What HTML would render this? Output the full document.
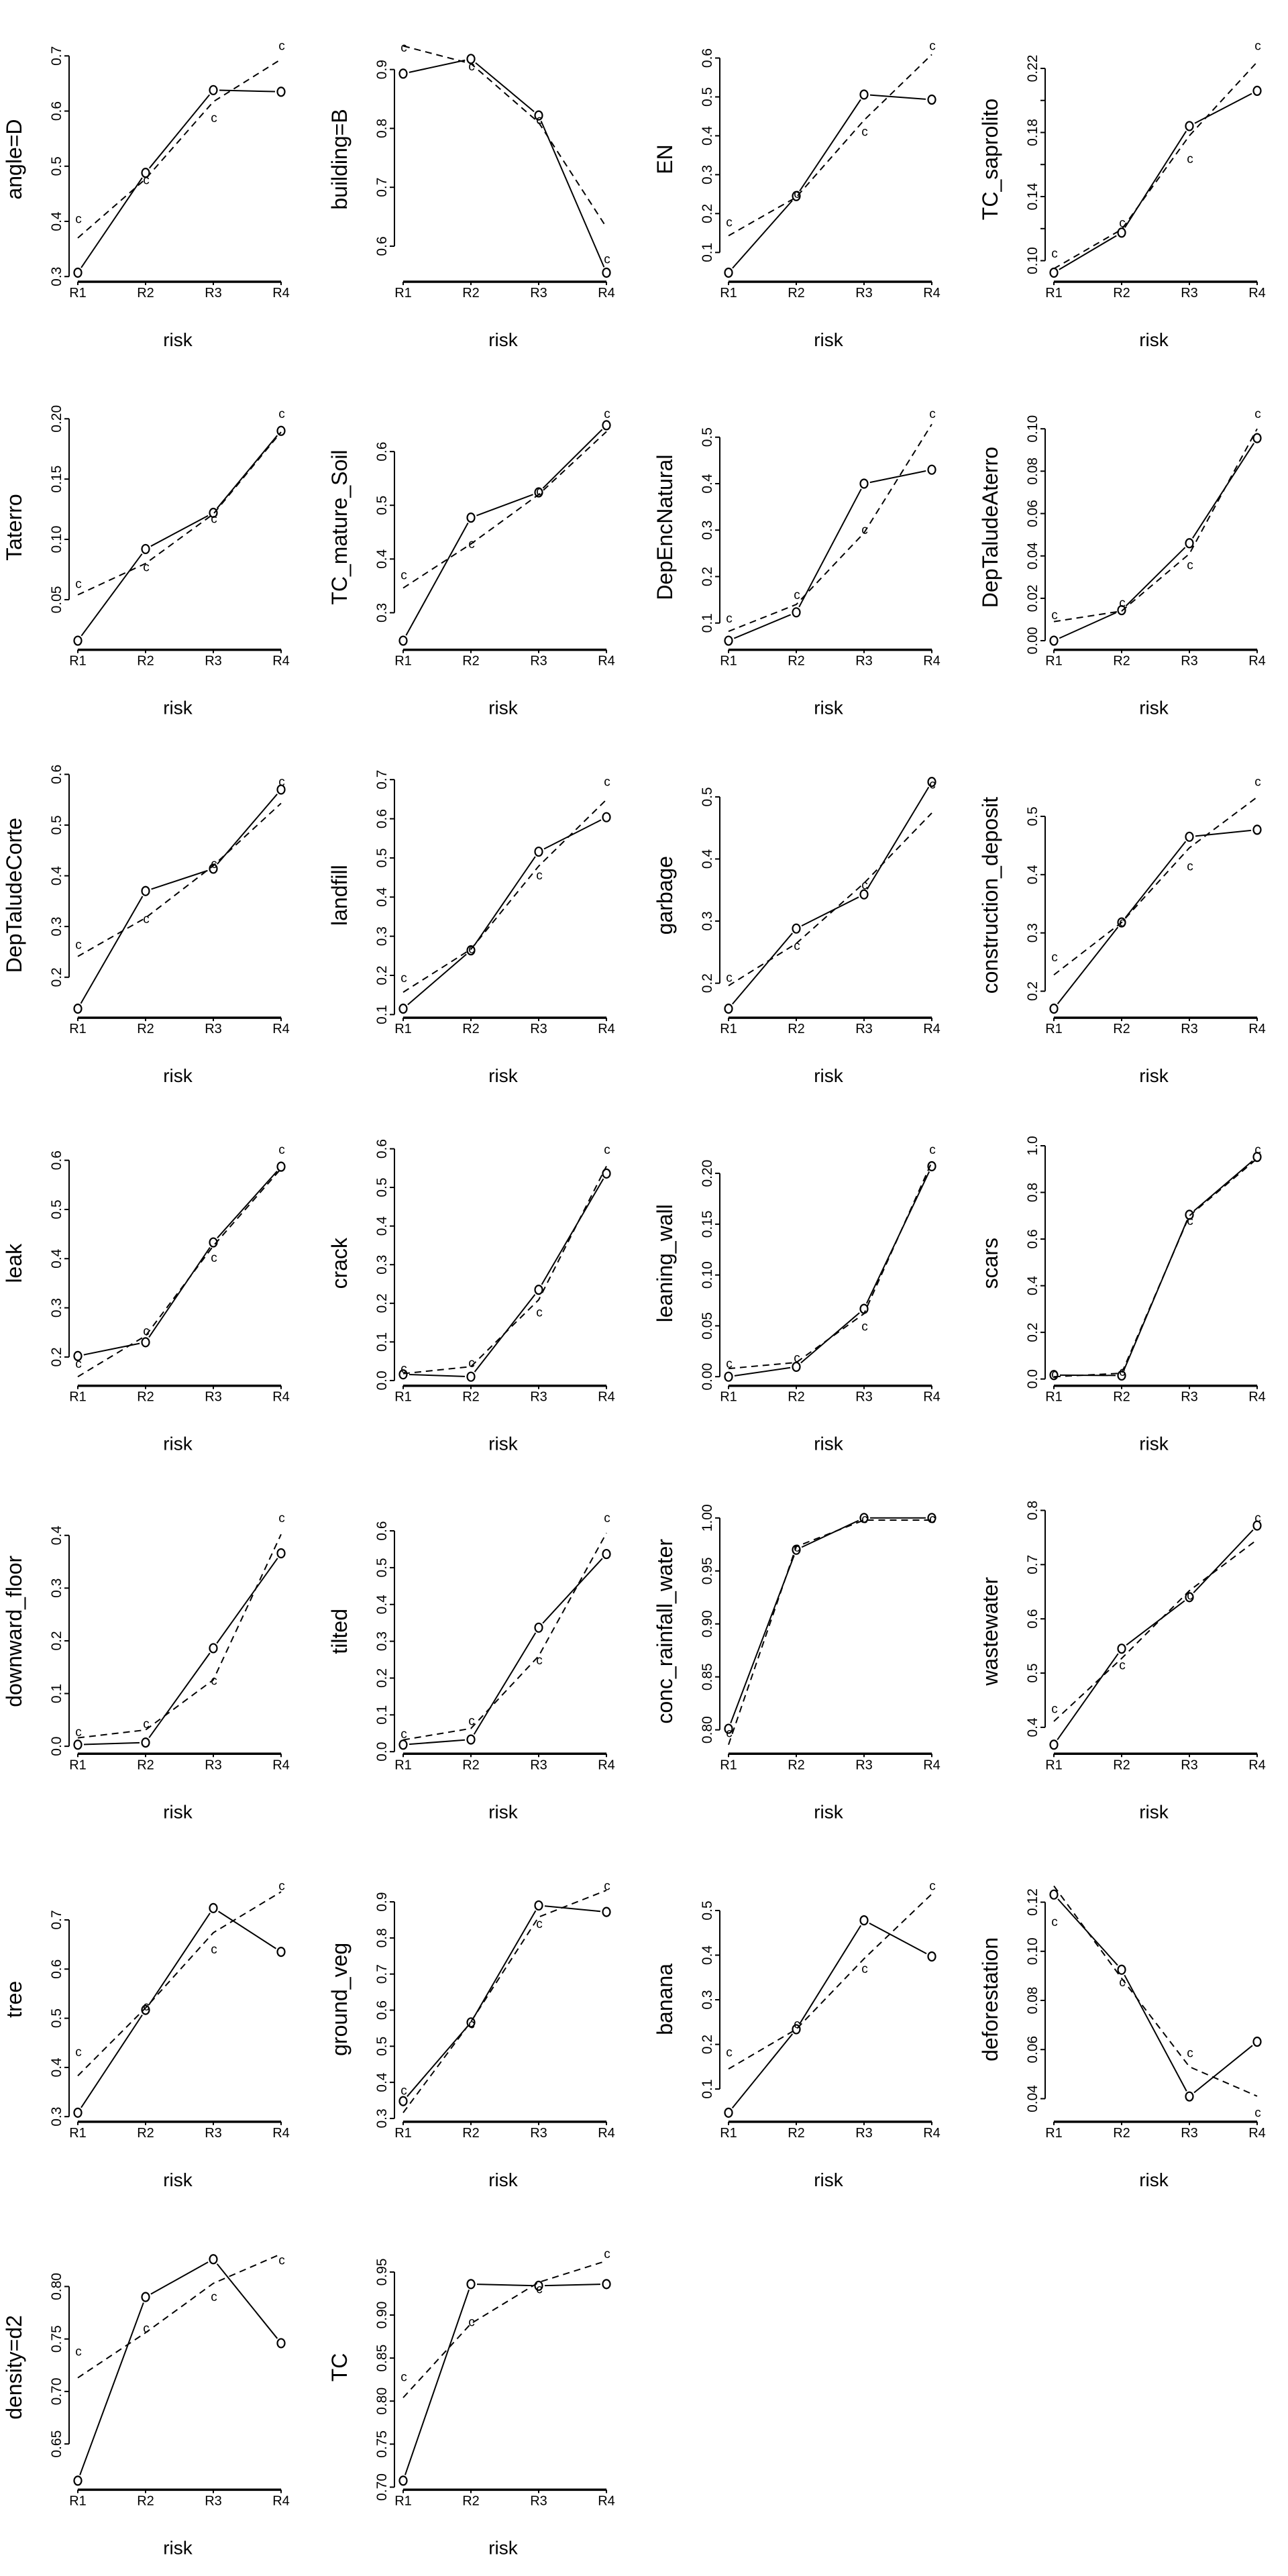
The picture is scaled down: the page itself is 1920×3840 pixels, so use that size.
<!DOCTYPE html>
<html><head><meta charset="utf-8"><title>Calibration plots by risk</title>
<style>
html,body{margin:0;padding:0;background:#fff;}
svg{display:block;}
text{font-family:"Liberation Sans",Arial,sans-serif;fill:#000;}
</style></head>
<body>
<svg id="chart" xmlns="http://www.w3.org/2000/svg" width="1920" height="3840" viewBox="0 0 1920 3840"></svg>
<script>
const categories = ["R1","R2","R3","R4"];
const panelNames = ["angle=D","building=B","EN","TC_saprolito","Taterro","TC_mature_Soil","DepEncNatural","DepTaludeAterro","DepTaludeCorte","landfill","garbage","construction_deposit","leak","crack","leaning_wall","scars","downward_floor","tilted","conc_rainfall_water","wastewater","tree","ground_veg","banana","deforestation","density=d2","TC"];
const observedValues = [
[0.307,0.488,0.638,0.635],[0.893,0.918,0.822,0.555],[0.048,0.245,0.506,0.493],[0.0925,0.1175,0.184,0.206],
[0.016,0.092,0.122,0.190],[0.248,0.477,0.524,0.649],[0.062,0.123,0.40,0.43],[0.0,0.0144,0.046,0.0956],
[0.138,0.370,0.414,0.570],[0.115,0.264,0.516,0.604],[0.159,0.288,0.343,0.524],[0.17,0.318,0.465,0.477],
[0.202,0.23,0.433,0.587],[0.016,0.010,0.235,0.536],[0.0,0.0097,0.0667,0.207],[0.017,0.015,0.704,0.952],
[0.003,0.007,0.186,0.366],[0.019,0.033,0.337,0.537],[0.801,0.970,1.0,1.0],[0.368,0.545,0.640,0.772],
[0.308,0.517,0.724,0.635],[0.348,0.566,0.890,0.872],[0.047,0.234,0.478,0.397],[0.1231,0.0925,0.0409,0.0632],
[0.615,0.790,0.826,0.746],[0.7075,0.936,0.934,0.936]];
const fittedValues = [
[0.370,0.477,0.617,0.694],[0.94,0.91,0.81,0.632],[0.143,0.242,0.44,0.609],[0.095,0.1195,0.178,0.224],
[0.054,0.080,0.121,0.189],[0.346,0.428,0.52,0.637],[0.082,0.14,0.294,0.528],[0.009,0.014,0.041,0.10],
[0.241,0.317,0.42,0.543],[0.157,0.267,0.479,0.649],[0.196,0.264,0.361,0.474],[0.228,0.318,0.446,0.533],
[0.16,0.243,0.426,0.583],[0.018,0.036,0.209,0.555],[0.008,0.014,0.062,0.211],[0.01,0.025,0.70,0.945],
[0.016,0.031,0.126,0.402],[0.032,0.063,0.26,0.594],[0.786,0.973,0.998,0.998],[0.411,0.527,0.652,0.746],
[0.383,0.521,0.674,0.757],[0.316,0.568,0.858,0.932],[0.145,0.234,0.392,0.537],[0.1266,0.089,0.053,0.041],
[0.713,0.756,0.803,0.831],[0.804,0.890,0.938,0.963]];
const cValues = [
[0.404,0.475,0.587,0.718],[0.937,0.905,0.814,0.578],[0.177,0.251,0.41,0.631],[0.1045,0.1235,0.1635,0.234],
[0.063,0.077,0.117,0.204],[0.37,0.428,0.526,0.670],[0.11,0.16,0.30,0.55],[0.012,0.0178,0.0356,0.107],
[0.264,0.315,0.423,0.585],[0.193,0.267,0.455,0.694],[0.209,0.26,0.358,0.52],[0.258,0.318,0.414,0.559],
[0.186,0.252,0.402,0.621],[0.030,0.045,0.176,0.597],[0.0126,0.0184,0.0494,0.223],[0.02,0.03,0.678,0.982],
[0.027,0.042,0.124,0.433],[0.048,0.083,0.248,0.635],[0.797,0.972,0.999,0.999],[0.434,0.514,0.643,0.786],
[0.431,0.524,0.640,0.769],[0.377,0.561,0.839,0.944],[0.182,0.245,0.369,0.555],[0.112,0.0874,0.0585,0.0343],
[0.738,0.760,0.790,0.825],[0.828,0.892,0.930,0.971]];
const tickStart = [0.3,0.6,0.1,0.10,0.05,0.3,0.1,0.00,0.2,0.1,0.2,0.2,0.2,0.0,0.00,0.0,0.0,0.0,0.80,0.4,0.3,0.3,0.1,0.04,0.65,0.70];
const tickEnd   = [0.7,0.9,0.6,0.22,0.20,0.6,0.5,0.10,0.6,0.7,0.5,0.5,0.6,0.6,0.20,1.0,0.4,0.6,1.00,0.8,0.7,0.9,0.5,0.12,0.80,0.95];
const tickStep  = [0.1,0.1,0.1,0.02,0.05,0.1,0.1,0.02,0.1,0.1,0.1,0.1,0.1,0.1,0.05,0.2,0.1,0.1,0.05,0.1,0.1,0.1,0.1,0.02,0.05,0.05];
const labelEvery= [1,1,1,2,1,1,1,1,1,1,1,1,1,1,1,1,1,1,1,1,1,1,1,1,1,1];
const tickDecimals=[1,1,1,2,2,1,1,2,1,1,1,1,1,1,2,1,1,1,2,1,1,1,1,2,2,2];

const svg = document.getElementById('chart');
const NS = 'http://www.w3.org/2000/svg';
function mk(tag, attrs, parent){const e=document.createElementNS(NS,tag);for(const k in attrs)e.setAttribute(k,attrs[k]);parent.appendChild(e);return e;}

const ROW_H = 3840/7, COL_W = 485, PT = 55, PB = 420, X0 = 116, XSTEP = 101;

panelNames.forEach((name, i) => {
  const col = i % 4, row = Math.floor(i / 4);
  const g = mk('g', {transform: 'translate(' + (col*COL_W) + ',' + (row*ROW_H).toFixed(2) + ')'}, svg);
  
  
  const all = observedValues[i].concat(fittedValues[i], cValues[i]);
  let lo = Math.min(...all), hi = Math.max(...all);
  const pad = (hi - lo) * 0.04; lo -= pad; hi += pad;
  const yScale = v => PB - (v - lo) / (hi - lo) * (PB - PT);
  const xScale = k => X0 + k * XSTEP;

  const ticks = [];
  for (let t = tickStart[i]; t <= tickEnd[i] + 1e-9; t += tickStep[i]) ticks.push(t);
  const ya = mk('line', {x1:103, x2:103, y1:yScale(ticks[ticks.length-1]), y2:yScale(ticks[0]), stroke:'#000','stroke-width':2}, g);
  
  
  ticks.forEach((t, k) => {
    const y = yScale(t);
    const tm = mk('line', {x1:96, x2:103, y1:y, y2:y, stroke:'#000','stroke-width':2}, g);
    
    
    if (k % labelEvery[i] === 0) {
      const tl = mk('text', {x:0, y:0, 'font-size':21, 'text-anchor':'middle', transform:'translate(91,' + y + ') rotate(-90)'}, g);
      tl.textContent = t.toFixed(tickDecimals[i]);
      
      
    }
  });
  const xa = mk('line', {x1:xScale(0), x2:xScale(3), y1:PB, y2:PB, stroke:'#000','stroke-width':3.5}, g);
  
  
  categories.forEach((c, k) => {
    const tm = mk('line', {x1:xScale(k), x2:xScale(k), y1:PB, y2:PB+5, stroke:'#000','stroke-width':2}, g);
    
    
    const tl = mk('text', {x:xScale(k), y:PB+23, 'font-size':20, 'text-anchor':'middle'}, g);
    tl.textContent = c;
    
    
  });
  const xt = mk('text', {x:265, y:516, 'font-size':28, 'text-anchor':'middle'}, g);
  xt.textContent = 'risk';
  
  
  const yt = mk('text', {x:0, y:0, 'font-size':32, 'text-anchor':'middle', transform:'translate(32,' + ((PT+PB)/2) + ') rotate(-90)'}, g);
  yt.textContent = name;
  
  

  const dp = fittedValues[i].map((v, k) => xScale(k).toFixed(1) + ',' + yScale(v).toFixed(1)).join(' ');
  const dl = mk('polyline', {points:dp, fill:'none', stroke:'#000', 'stroke-width':2, 'stroke-dasharray':'10,7'}, g);
  
  

  for (let k = 0; k < 3; k++) {
    const xa1 = xScale(k), ya1 = yScale(observedValues[i][k]);
    const xb = xScale(k+1), yb = yScale(observedValues[i][k+1]);
    const len = Math.hypot(xb - xa1, yb - ya1), gap = 9;
    if (len <= 2*gap) continue;
    const ux = (xb - xa1)/len, uy = (yb - ya1)/len;
    const s = mk('line', {x1:xa1+ux*gap, y1:ya1+uy*gap, x2:xb-ux*gap, y2:yb-uy*gap, stroke:'#000','stroke-width':2}, g);
    
    
  }
  observedValues[i].forEach((v, k) => {
    const p = mk('ellipse', {cx:xScale(k), cy:yScale(v), rx:5.5, ry:6.5, fill:'none', stroke:'#000','stroke-width':2.2}, g);
    
    
  });
  cValues[i].forEach((v, k) => {
    const c = mk('text', {x:xScale(k)+1, y:yScale(v)+6, 'font-size':19, 'text-anchor':'middle'}, g);
    c.textContent = 'c';
    
    
  });
});
</script>
</body></html>
